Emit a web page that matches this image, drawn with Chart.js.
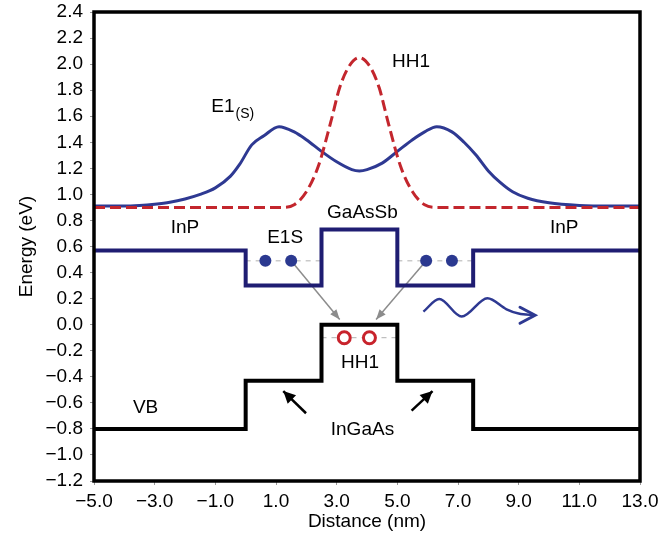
<!DOCTYPE html>
<html><head><meta charset="utf-8">
<script src="https://cdn.jsdelivr.net/npm/chart.js@4/dist/chart.umd.min.js"></script>
<style>html,body{margin:0;padding:0;background:#fff}#wrap{width:660px;height:540px;position:relative}</style>
</head><body><div id="wrap"><canvas id="c"></canvas></div>
<script>
// ---- data ----
const xTickValues = [-5, -3, -1, 1, 3, 5, 7, 9, 11, 13];
const yTickValues = [-1.2, -1.0, -0.8, -0.6, -0.4, -0.2, 0.0, 0.2, 0.4, 0.6, 0.8, 1.0, 1.2, 1.4, 1.6, 1.8, 2.0, 2.2, 2.4];

const e1X = [-5, -4, -3.5, -3, -2.5, -2, -1.5, -1, -0.5, -0.2, 0.2, 0.6, 1.1, 1.6, 2.0, 2.5, 3.0, 3.5, 3.75, 4.0, 4.5, 5.0, 5.5, 5.9, 6.3, 6.8, 7.2, 7.6, 8.0, 8.4, 8.8, 9.3, 10, 11, 12, 13];
const e1Y = [0.91, 0.91, 0.915, 0.925, 0.94, 0.965, 1.0, 1.05, 1.14, 1.23, 1.38, 1.45, 1.52, 1.48, 1.42, 1.33, 1.25, 1.19, 1.18, 1.19, 1.24, 1.33, 1.42, 1.48, 1.52, 1.48, 1.40, 1.30, 1.18, 1.09, 1.02, 0.97, 0.935, 0.915, 0.91, 0.91];

const hh1X = [-5, 1.2, 1.6, 2.0, 2.4, 2.8, 3.1, 3.4, 3.75, 4.1, 4.4, 4.7, 5.1, 5.5, 5.9, 6.3, 13];
const hh1Y = [0.9, 0.9, 0.92, 1.02, 1.22, 1.55, 1.82, 1.98, 2.05, 1.98, 1.82, 1.55, 1.22, 1.02, 0.92, 0.9, 0.9];

const bandX = [-5, 0, 0, 2.5, 2.5, 5, 5, 7.5, 7.5, 13];
const cbY = [0.57, 0.57, 0.30, 0.30, 0.73, 0.73, 0.30, 0.30, 0.57, 0.57];
const vbY = [-0.8, -0.8, -0.43, -0.43, 0.0, 0.0, -0.43, -0.43, -0.8, -0.8];

const e1sLevel = 0.49;
const e1sLeftX = [0, 2.5];
const e1sRightX = [5, 7.5];
const hh1Level = -0.1;
const hh1LevelX = [2.5, 5];
const electronX = [0.65, 1.5, 5.95, 6.8];
const holeX = [3.25, 4.08];

const greyArrowLeftX = [1.5, 3.1], greyArrowLeftY = [0.49, 0.04];
const greyArrowRightX = [5.95, 4.3], greyArrowRightY = [0.49, 0.04];
const blackArrowLeftX = [1.99, 1.24], blackArrowLeftY = [-0.68, -0.51];
const blackArrowRightX = [5.47, 6.16], blackArrowRightY = [-0.66, -0.51];

const waveX = [5.86, 6.38, 7.12, 7.97, 8.6, 9.0, 9.54];
const waveY = [0.10, 0.197, 0.062, 0.203, 0.118, 0.085, 0.072];
const waveHeadX = [9.045, 9.54, 9.045];
const waveHeadY = [0.134, 0.072, 0.011];

const labelTexts = ['HH1', 'E1', 'GaAsSb', 'InP', 'InP', 'E1S', 'HH1', 'VB', 'InGaAs'];
const labelX = [5.45, -0.75, 3.85, -2.0, 10.5, 1.3, 3.77, -3.3, 3.85];
const labelY = [2.02, 1.67, 0.86, 0.74, 0.74, 0.67, -0.29, -0.64, -0.81];
const labelSub = ['', '(S)', '', '', '', '', '', '', ''];

// ---- helpers ----
const pts = (xs, ys) => xs.map((x, i) => ({x, y: Array.isArray(ys) ? ys[i] : ys}));
const fmt = v => (v < 0 ? '\u2212' : '') + Math.abs(v).toFixed(1);
const FONT = "'Liberation Sans', Arial, Helvetica, sans-serif";
const NAVY = '#1f1d72';
const BLUE = '#2e3992';
const RED = '#c3262d';

const lineDs = (data, color, width, extra) => Object.assign({
  type: 'line', data, borderColor: color, backgroundColor: color, borderWidth: width,
  pointRadius: 0, fill: false, tension: 0
}, extra || {});

const datasets = [
  lineDs(pts(hh1X, hh1Y), RED, 3, {borderDash: [11, 5], cubicInterpolationMode: 'monotone', order: 1}),
  lineDs(pts(e1X, e1Y), BLUE, 3, {cubicInterpolationMode: 'monotone', order: 2}),
  lineDs(pts(bandX, cbY), NAVY, 4, {order: 3}),
  lineDs(pts(bandX, vbY), '#000000', 4, {order: 3}),
  lineDs(pts(e1sLeftX, e1sLevel), '#b0b0b0', 1, {borderDash: [5, 5], order: 6}),
  lineDs(pts(e1sRightX, e1sLevel), '#b0b0b0', 1, {borderDash: [5, 5], order: 6}),
  lineDs(pts(hh1LevelX, hh1Level), '#b0b0b0', 1, {borderDash: [5, 5], order: 6}),
  lineDs(pts(greyArrowLeftX, greyArrowLeftY), '#8c8c8c', 1.5, {arrowHead: {len: 10, w: 4}, order: 5}),
  lineDs(pts(greyArrowRightX, greyArrowRightY), '#8c8c8c', 1.5, {arrowHead: {len: 10, w: 4}, order: 5}),
  lineDs(pts(blackArrowLeftX, blackArrowLeftY), '#000000', 2.5, {arrowHead: {len: 12, w: 6}, order: 5}),
  lineDs(pts(blackArrowRightX, blackArrowRightY), '#000000', 2.5, {arrowHead: {len: 12, w: 6}, order: 5}),
  lineDs(pts(waveX, waveY), BLUE, 2.5, {cubicInterpolationMode: 'monotone', order: 5}),
  lineDs(pts(waveHeadX, waveHeadY), BLUE, 3, {order: 5, borderCapStyle: 'round', borderJoinStyle: 'miter'}),
  {type: 'scatter', data: pts(electronX, e1sLevel), pointRadius: 6, pointHoverRadius: 6,
   backgroundColor: '#2b3990', borderColor: '#2b3990', borderWidth: 0, order: 0},
  {type: 'scatter', data: pts(holeX, hh1Level), pointRadius: 6, pointHoverRadius: 6,
   backgroundColor: '#ffffff', borderColor: '#c8232c', borderWidth: 3, order: 0}
];

const arrowPlugin = {
  id: 'arrowHeads',
  afterDatasetsDraw(chart) {
    const ctx = chart.ctx;
    chart.data.datasets.forEach((ds, i) => {
      if (!ds.arrowHead) return;
      const el = chart.getDatasetMeta(i).data;
      const p1 = el[el.length - 2], p2 = el[el.length - 1];
      const a = Math.atan2(p2.y - p1.y, p2.x - p1.x);
      const L = ds.arrowHead.len, W = ds.arrowHead.w;
      const bx = p2.x - L * Math.cos(a), by = p2.y - L * Math.sin(a);
      ctx.save();
      ctx.fillStyle = ds.borderColor;
      ctx.beginPath();
      ctx.moveTo(p2.x, p2.y);
      ctx.lineTo(bx + W * Math.sin(a), by - W * Math.cos(a));
      ctx.lineTo(bx - W * Math.sin(a), by + W * Math.cos(a));
      ctx.closePath();
      ctx.fill();
      ctx.restore();
    });
  }
};

const labelPlugin = {
  id: 'labels',
  afterDatasetsDraw(chart) {
    const {ctx, scales: {x, y}} = chart;
    ctx.save();
    ctx.fillStyle = '#000';
    ctx.textBaseline = 'middle';
    labelTexts.forEach((t, i) => {
      const px = x.getPixelForValue(labelX[i]);
      const py = y.getPixelForValue(labelY[i]);
      ctx.font = '19px ' + FONT;
      ctx.textAlign = 'center';
      ctx.fillText(t, px, py);
      if (labelSub[i]) {
        const w = ctx.measureText(t).width;
        ctx.font = '14px ' + FONT;
        ctx.textAlign = 'left';
        ctx.fillText(labelSub[i], px + w / 2 + 1, py + 7);
      }
    });
    ctx.restore();
  }
};

const framePlugin = {
  id: 'frame',
  afterDraw(chart) {
    const {ctx, chartArea: a} = chart;
    ctx.save();
    ctx.strokeStyle = '#000';
    ctx.lineWidth = 3.5;
    ctx.strokeRect(a.left, a.top, a.right - a.left, a.bottom - a.top);
    ctx.restore();
  }
};

new Chart(document.getElementById('c'), {
  data: {datasets},
  plugins: [arrowPlugin, labelPlugin, framePlugin],
  options: {
    responsive: true,
    maintainAspectRatio: false,
    animation: false,
    events: [],
    layout: {padding: {top: 12, right: 20, left: 0, bottom: 0}},
    plugins: {legend: {display: false}, tooltip: {enabled: false}},
    scales: {
      x: {
        type: 'linear', position: 'bottom', min: -5, max: 13,
        afterBuildTicks: s => { s.ticks = xTickValues.map(v => ({value: v})); },
        afterFit: s => { s.height = 59; s.paddingLeft = 0; s.paddingRight = 0; },
        ticks: {callback: v => fmt(v), font: {family: FONT, size: 19}, color: '#000',
                padding: 5, maxRotation: 0, autoSkip: false},
        grid: {drawOnChartArea: false, drawTicks: true, tickLength: 4, color: '#999'},
        border: {display: false},
        title: {display: true, text: 'Distance (nm)', font: {family: FONT, size: 19},
                color: '#000', padding: {top: 0, bottom: 7}}
      },
      y: {
        type: 'linear', position: 'left', min: -1.2, max: 2.4,
        afterBuildTicks: s => { s.ticks = yTickValues.map(v => ({value: v})); },
        afterFit: s => { s.width = 94; s.paddingTop = 0; s.paddingBottom = 0; },
        ticks: {callback: v => fmt(v), font: {family: FONT, size: 19}, color: '#000',
                padding: 7, autoSkip: false},
        grid: {drawOnChartArea: false, drawTicks: true, tickLength: 4, color: '#999'},
        border: {display: false},
        title: {display: true, text: 'Energy (eV)', font: {family: FONT, size: 19},
                color: '#000', padding: {top: 15, bottom: 0}}
      }
    }
  }
});
</script>
</body></html>
